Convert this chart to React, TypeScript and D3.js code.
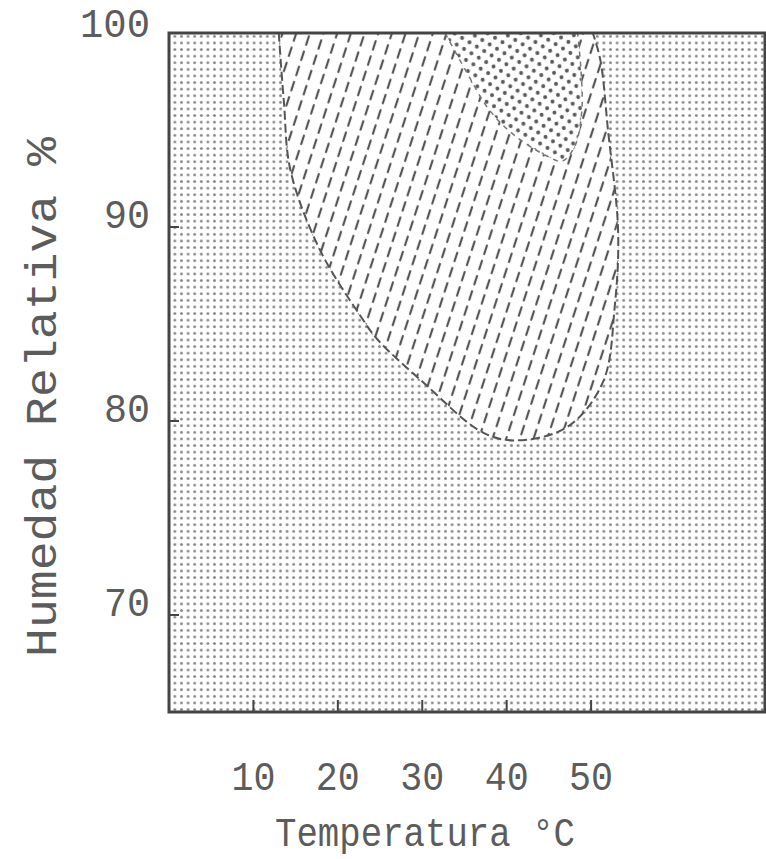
import React from 'react';
import * as d3 from 'd3';

// tick values
const xTicks = [10, 20, 30, 40, 50];
const yTicks = [70, 80, 90, 100];

// outer (hatched) zone boundary, read clockwise from top-left
const zoneTemp = [13.0, 13.6, 14.4, 17.9, 22.7, 24.7, 30.1, 37.2, 41.2, 47.2, 51.4, 52.8, 53.2, 52.0, 51.1, 50.2];
const zoneHum = [100, 96.5, 92.9, 88.8, 85.4, 84.2, 82.0, 79.4, 79.0, 79.7, 82.0, 85.9, 89.8, 95.0, 98.6, 100];

// inner (dotted) zone boundary
const coreTemp = [32.7, 35.1, 38.0, 41.0, 44.6, 46.6, 48.1, 48.9, 48.8, 48.4];
const coreHum = [100, 98.1, 96.0, 94.7, 93.7, 93.4, 94.2, 96.0, 98.1, 100];

const W = 766;
const H = 859;
const margin = { top: 33, right: 1, bottom: 147, left: 169 };
const FONT = '"Liberation Mono", "DejaVu Sans Mono", monospace';
const INK = '#5c5c5c';

export default function App() {
  const x = d3.scaleLinear().domain([0, 70.6]).range([margin.left, W - margin.right]);
  const y = d3.scaleLinear().domain([65, 100]).range([H - margin.bottom, margin.top]);

  const line = d3.line<[number, number]>()
    .x(d => x(d[0]))
    .y(d => y(d[1]))
    .curve(d3.curveCatmullRom.alpha(0.5));

  const zonePts = zoneTemp.map((t, i) => [t, zoneHum[i]] as [number, number]);
  const corePts = coreTemp.map((t, i) => [t, coreHum[i]] as [number, number]);
  const zonePath = line(zonePts) + 'Z';
  const corePath = line(corePts) + 'Z';

  const x0 = x(0);
  const x1 = x(70.6);
  const yTop = y(100);
  const yBot = y(65);

  return (
    <svg width={W} height={H} style={{ position: 'absolute', left: 0, top: 0, background: '#fff' }}>
      <defs>
        <pattern id="bgDots" width={6.6} height={6.6} patternUnits="userSpaceOnUse">
          <circle cx={3.3} cy={3.3} r={1.45} fill="#888" />
        </pattern>
        <pattern id="hatch" width={13} height={16} patternUnits="userSpaceOnUse" patternTransform="rotate(18)">
          <line x1={6} y1={3} x2={6} y2={12} stroke="#555" strokeWidth={2.2} strokeLinecap="round" />
        </pattern>
        <pattern id="hexDots" width={13} height={11.2} patternUnits="userSpaceOnUse" patternTransform="rotate(-10)">
          <circle cx={0} cy={0} r={2} fill="#5a5a5a" />
          <circle cx={13} cy={0} r={2} fill="#5a5a5a" />
          <circle cx={0} cy={11.2} r={2} fill="#5a5a5a" />
          <circle cx={13} cy={11.2} r={2} fill="#5a5a5a" />
          <circle cx={6.5} cy={5.6} r={2} fill="#5a5a5a" />
        </pattern>
        <clipPath id="plotClip">
          <rect x={x0} y={yTop} width={x1 - x0} height={yBot - yTop} />
        </clipPath>
      </defs>

      {/* background dot screen */}
      <rect x={x0} y={yTop} width={x1 - x0} height={yBot - yTop} fill="url(#bgDots)" />

      <g clipPath="url(#plotClip)">
        <path d={zonePath} fill="#fff" />
        <path d={zonePath} fill="url(#hatch)" />
        <path d={zonePath} fill="none" stroke="#555" strokeWidth={2} strokeDasharray="9 4" />
        <path d={corePath} fill="#fff" />
        <path d={corePath} fill="url(#hexDots)" />
        <path d={corePath} fill="none" stroke="#777" strokeWidth={1.5} strokeDasharray="5 5" />
      </g>

      {/* frame */}
      <rect x={x0} y={yTop} width={x1 - x0} height={yBot - yTop} fill="none" stroke="#444" strokeWidth={3} />

      {/* x ticks (inward) */}
      {xTicks.map(t => (
        <line key={'xt' + t} x1={x(t)} x2={x(t)} y1={yBot} y2={yBot - 12} stroke="#444" strokeWidth={2} />
      ))}
      {/* y ticks (inward) */}
      {yTicks.filter(t => t < 100).map(t => (
        <line key={'yt' + t} x1={x0} x2={x0 + 10} y1={y(t)} y2={y(t)} stroke="#444" strokeWidth={2} />
      ))}

      {xTicks.map(t => (
        <text key={'xl' + t} x={x(t)} y={790} textAnchor="middle" fontFamily={FONT} fontSize={40}
          fill={INK} textLength={44} lengthAdjust="spacingAndGlyphs">{t}</text>
      ))}
      {yTicks.map(t => (
        <text key={'yl' + t} x={150} y={t === 100 ? 37 : y(t) + 1} textAnchor="end" fontFamily={FONT} fontSize={40}
          fill={INK} textLength={t === 100 ? 70 : 46} lengthAdjust="spacingAndGlyphs">{t}</text>
      ))}

      <text x={425} y={846} textAnchor="middle" fontFamily={FONT} fontSize={40} fill={INK}
        textLength={300} lengthAdjust="spacingAndGlyphs">Temperatura °C</text>
      <text transform="translate(56,397) rotate(-90)" textAnchor="middle" fontFamily={FONT} fontSize={44}
        fill={INK} textLength={520} lengthAdjust="spacingAndGlyphs">Humedad Relativa %</text>
    </svg>
  );
}
